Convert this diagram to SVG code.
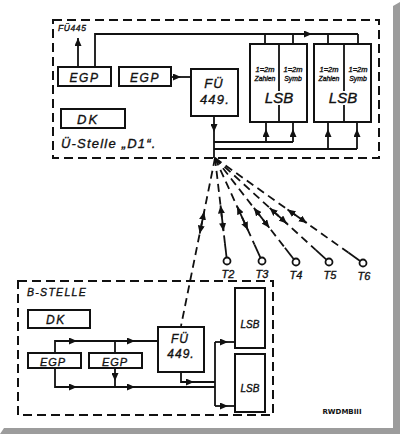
<svg xmlns="http://www.w3.org/2000/svg" width="400" height="434" viewBox="0 0 400 434">
<style>
.bx{fill:none;stroke:#111;stroke-width:2}
.ln{fill:none;stroke:#111;stroke-width:1.8}
.ds{fill:none;stroke:#111;stroke-width:2;stroke-dasharray:9 5}
.rd{fill:none;stroke:#111;stroke-width:1.8;stroke-dasharray:8 5}
.t{font-family:"Liberation Sans",Arial,sans-serif;font-style:italic;fill:#111;stroke:#111;stroke-width:0.35}
.c{text-anchor:middle}
.ar{marker-end:url(#a)}
.da{marker-start:url(#a);marker-end:url(#a)}
</style>
<defs>
<marker id="a" viewBox="0 0 8 7" refX="8" refY="3.5" markerWidth="8" markerHeight="7" markerUnits="userSpaceOnUse" orient="auto-start-reverse">
<path d="M0,0 L8,3.5 L0,7 z" fill="#111"/>
</marker>
</defs>
<rect width="400" height="434" fill="#fff"/>
<polygon points="393,6 400,2 400,434 0,434 4,428 393,428" fill="#9c9c9c"/>

<g id="ue-stelle">
<rect x="53" y="20" width="326" height="138" class="ds"/>
<text x="58" y="31" class="t" font-size="8.5" letter-spacing="0.6">FÜ445</text>
<text x="61" y="148" class="t" font-size="13" letter-spacing="1.2">Ü-Stelle „D1“.</text>
</g>
<g id="egp1-top"><rect x="58" y="67" width="53" height="19" class="bx"/><text x="84.5" y="82" class="t c" font-size="12" letter-spacing="1.5">EGP</text></g>
<g id="egp2-top"><rect x="119" y="67" width="52" height="19" class="bx"/><text x="145" y="82" class="t c" font-size="12" letter-spacing="1.5">EGP</text></g>
<g id="dk-top"><rect x="61" y="109" width="64" height="19" class="bx"/><text x="77" y="124" class="t" font-size="13" letter-spacing="2">DK</text></g>
<g id="fue-top"><rect x="191" y="69" width="47" height="47" class="bx"/><text x="214" y="88" class="t c" font-size="13" letter-spacing="1">FÜ</text><text x="215" y="104" class="t c" font-size="13" letter-spacing="1.2">449.</text></g>
<g id="lsb1-top">
<rect x="250" y="44" width="57" height="78" class="bx"/>
<path d="M279,44 V91 M279,105 V122" class="ln"/>
<text x="265" y="72" class="t c" font-size="7.5">1=2m</text>
<text x="265" y="81" class="t c" font-size="6.8">Zahlen</text>
<text x="293" y="72" class="t c" font-size="7.5">1=2m</text>
<text x="293" y="81" class="t c" font-size="6.8">Symb</text>
<text x="279" y="103" class="t c" font-size="15">LSB</text>
</g>
<g id="lsb2-top">
<rect x="314" y="44" width="57" height="78" class="bx"/>
<path d="M344,44 V91 M344,105 V122" class="ln"/>
<text x="329" y="72" class="t c" font-size="7.5">1=2m</text>
<text x="329" y="81" class="t c" font-size="6.8">Zahlen</text>
<text x="358" y="72" class="t c" font-size="7.5">1=2m</text>
<text x="358" y="81" class="t c" font-size="6.8">Symb</text>
<text x="343" y="103" class="t c" font-size="15">LSB</text>
</g>

<g id="b-stelle">
<rect x="18" y="281" width="255" height="134" class="ds"/>
<text x="27" y="296" class="t" font-size="10.5" letter-spacing="1.3">B-STELLE</text>
</g>
<g id="dk-bot"><rect x="28" y="310" width="62" height="18" class="bx"/><text x="46" y="324" class="t" font-size="12" letter-spacing="1.5">DK</text></g>
<g id="egp1-bot"><rect x="28" y="353" width="53" height="15" class="bx"/><text x="53" y="365.5" class="t c" font-size="11" letter-spacing="1">EGP</text></g>
<g id="egp2-bot"><rect x="89" y="353" width="53" height="15" class="bx"/><text x="115" y="365.5" class="t c" font-size="11" letter-spacing="1">EGP</text></g>
<g id="fue-bot"><rect x="158" y="327" width="46" height="45" class="bx"/><text x="180" y="343" class="t c" font-size="12" letter-spacing="1">FÜ</text><text x="181" y="358" class="t c" font-size="12" letter-spacing="1">449.</text></g>
<g id="lsb1-bot"><rect x="235" y="288" width="30" height="60" class="bx"/><text x="250" y="328" class="t c" font-size="10">LSB</text></g>
<g id="lsb2-bot"><rect x="235" y="354" width="30" height="58" class="bx"/><text x="250" y="392" class="t c" font-size="10">LSB</text></g>

<g id="terminals">
<circle cx="227" cy="261" r="3.5" class="ln" fill="#fff"/>
<circle cx="262" cy="261" r="3.5" class="ln" fill="#fff"/>
<circle cx="296" cy="262" r="3.5" class="ln" fill="#fff"/>
<circle cx="329" cy="262" r="3.5" class="ln" fill="#fff"/>
<circle cx="363" cy="263" r="3.5" class="ln" fill="#fff"/>
<text x="228" y="278" class="t c" font-size="11">T2</text>
<text x="262" y="278" class="t c" font-size="11">T3</text>
<text x="296" y="279" class="t c" font-size="11">T4</text>
<text x="330" y="279" class="t c" font-size="11">T5</text>
<text x="364" y="280" class="t c" font-size="11">T6</text>
</g>

<g id="connectors">
<!-- top station -->
<path d="M78,67 V38" class="ln ar"/>
<path d="M95,67 V34 H312" class="ln ar"/>
<path d="M312,34 H358 M265,34 V44 M293,34 V44 M328,34 V44 M358,34 V44" class="ln"/>
<path d="M171,77 H181" class="ln ar"/>
<path d="M181,77 H191" class="ln"/>
<path d="M214,116 V132" class="ln ar"/>
<path d="M214,132 V158" class="ln"/>
<path d="M214,142 H293 M214,149 H357" class="ln"/>
<path d="M266,142 V129" class="ln ar"/><path d="M293,142 V129" class="ln ar"/>
<path d="M328,149 V129" class="ln ar"/><path d="M357,149 V129" class="ln ar"/>
<path d="M266,129 V122 M293,129 V122 M328,129 V122 M357,129 V122" class="ln"/>
<!-- fan -->
<path d="M215,158 L181,326" class="rd"/>
<path d="M204.1,211.8 L199.7,233.6" class="ln da"/>
<path d="M215,158 L224.9,243.1" class="rd"/>
<path d="M224.9,243.1 L226.6,257.5" class="ln"/>
<path d="M220.5,205.4 L223.5,231.1" class="ln da"/>
<path d="M215,158 L254.5,244.6" class="rd"/>
<path d="M254.5,244.6 L260.5,257.8" class="ln"/>
<path d="M237.1,206.4 L247.9,230.1" class="ln da"/>
<path d="M215,158 L284.9,247.8" class="rd"/>
<path d="M284.9,247.8 L293.8,259.2" class="ln"/>
<path d="M253.9,207.9 L269.3,227.7" class="ln da"/>
<path d="M215,158 L315.7,249.9" class="rd"/>
<path d="M315.7,249.9 L326.4,259.6" class="ln"/>
<path d="M269.7,207.9 L286.8,223.5" class="ln da"/>
<path d="M215,158 L348.3,252.6" class="rd"/>
<path d="M348.3,252.6 L360.1,261" class="ln"/>
<path d="M287.5,209.5 L306.8,223.1" class="ln da"/>
<!-- bottom station -->
<path d="M55,353 V341 H77" class="ln ar"/>
<path d="M77,341 H135" class="ln ar"/>
<path d="M135,341 H158 M115,341 V353" class="ln"/>
<path d="M55,368 V387 H77" class="ln ar"/>
<path d="M77,387 H135" class="ln ar"/>
<path d="M135,387 H215" class="ln"/>
<path d="M115,368 V381" class="ln ar"/>
<path d="M115,381 V387" class="ln"/>
<path d="M181,372 V382 H194" class="ln ar"/>
<path d="M194,382 H215 M215,342 V406" class="ln"/>
<path d="M215,342 H228" class="ln ar"/><path d="M228,342 H235" class="ln"/>
<path d="M215,406 H228" class="ln ar"/><path d="M228,406 H235" class="ln"/>
</g>
<text x="342" y="414" font-family="DejaVu Sans,Verdana,sans-serif" font-weight="bold" font-size="7" text-anchor="middle" fill="#111">RWDMBIII</text>
</svg>
